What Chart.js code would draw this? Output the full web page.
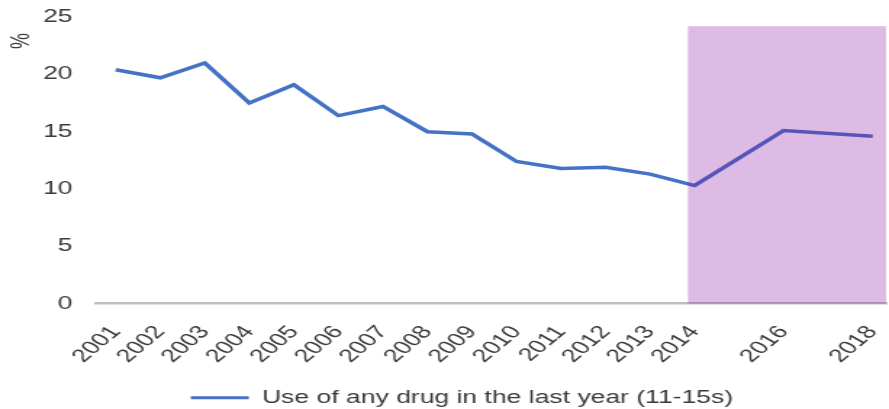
<!DOCTYPE html>
<html>
<head>
<meta charset="utf-8">
<script src="https://cdn.jsdelivr.net/npm/chart.js@4"></script>
<style>
  html, body { margin: 0; padding: 0; background: #fff; overflow: hidden; }
  /* the reference picture is stretched sideways, so draw narrow and stretch */
  #wrap { width: 613px; height: 409px; transform: scaleX(1.4502); transform-origin: 0 0; }
</style>
</head>
<body>
<div id="wrap"><canvas id="drugChart"></canvas></div>
<script>
// Data
const years = [2001, 2002, 2003, 2004, 2005, 2006, 2007, 2008, 2009, 2010, 2011, 2012, 2013, 2014, 2016, 2018];
const anyDrugUse = [20.4, 19.7, 21.0, 17.5, 19.1, 16.4, 17.2, 15.0, 14.8, 12.4, 11.8, 11.9, 11.3, 10.3, 15.1, 14.6];
const yTicks = [0, 5, 10, 15, 20, 25];
const seriesLabel = 'Use of any drug in the last year (11-15s)';
// shaded period on the right
const shadeFrom = 2013.85;
const shadeTop = 24.2;

const textColor = '#3a3a3a';
const lineColor = '#4472C4';
const font = { family: 'Liberation Sans', size: 18.3 };

// translucent purple band laid over the line, placed with the chart scales
const shadePlugin = {
    id: 'shade',
    afterDatasetsDraw(chart) {
        const { ctx, chartArea, scales } = chart;
        const x0 = scales.x.getPixelForValue(shadeFrom);
        const y0 = scales.y.getPixelForValue(shadeTop);
        const y1 = scales.y.getPixelForValue(0);
        ctx.save();
        ctx.fillStyle = 'rgba(130, 6, 156, 0.273)';
        ctx.fillRect(x0, y0, chartArea.right - x0, y1 - y0);
        ctx.restore();
    }
};

// the rotated "%" unit near the top of the y axis
const unitPlugin = {
    id: 'unit',
    afterDraw(chart) {
        const { ctx, chartArea } = chart;
        ctx.save();
        ctx.translate(chartArea.left - 51, chartArea.top + 24);
        ctx.rotate(-Math.PI / 2);
        ctx.font = '18px "Liberation Sans"';
        ctx.fillStyle = textColor;
        ctx.textAlign = 'center';
        ctx.textBaseline = 'middle';
        ctx.fillText('%', 0, 0);
        ctx.restore();
    }
};

const ctx = document.getElementById('drugChart').getContext('2d');

new Chart(ctx, {
    type: 'line',
    data: {
        datasets: [{
            label: seriesLabel,
            data: years.map((y, i) => ({ x: y, y: anyDrugUse[i] })),
            borderColor: lineColor,
            backgroundColor: lineColor,
            borderWidth: 3.5,
            pointRadius: 0,
            tension: 0
        }]
    },
    options: {
        responsive: true,
        maintainAspectRatio: false,
        animation: false,
        layout: { padding: { top: 17, right: 2, left: 26, bottom: -8 } },
        plugins: {
            tooltip: { enabled: false },
            legend: {
                position: 'bottom',
                labels: {
                    color: textColor,
                    font: font,
                    boxWidth: 40,
                    boxHeight: 3,
                    padding: 1,
                    generateLabels: () => [{
                        text: seriesLabel,
                        fillStyle: lineColor,
                        strokeStyle: lineColor,
                        lineWidth: 0,
                        fontColor: textColor,
                        datasetIndex: 0
                    }]
                }
            }
        },
        scales: {
            x: {
                type: 'linear',
                min: 2000.55,
                max: 2018.3,
                afterBuildTicks: (scale) => {
                    scale.ticks = years.map(v => ({ value: v }));
                },
                afterFit: (scale) => {
                    scale.height = 84;
                    scale.paddingLeft = 0;
                    scale.paddingRight = 0;
                },
                grid: { display: false, drawTicks: false },
                border: { display: true, color: '#BFBFBF', width: 2.5 },
                ticks: {
                    autoSkip: false,
                    minRotation: 50,
                    maxRotation: 50,
                    padding: 18,
                    color: textColor,
                    font: font,
                    callback: (v) => String(v)
                }
            },
            y: {
                min: 0,
                max: 25,
                afterBuildTicks: (scale) => {
                    scale.ticks = yTicks.map(v => ({ value: v }));
                },
                afterFit: (scale) => {
                    scale.width = 40;
                    scale.paddingTop = 0;
                    scale.paddingBottom = 0;
                },
                grid: { display: false, drawTicks: false },
                border: { display: false },
                ticks: {
                    padding: 16,
                    color: textColor,
                    font: font
                }
            }
        }
    },
    plugins: [shadePlugin, unitPlugin]
});
</script>
</body>
</html>
